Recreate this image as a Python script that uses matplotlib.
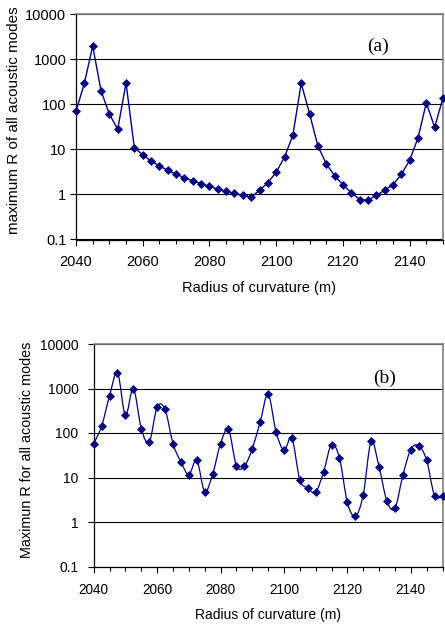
import numpy as np
import matplotlib
matplotlib.use("Agg")
import matplotlib.pyplot as plt
from matplotlib.path import Path
from matplotlib.patches import PathPatch
from matplotlib.ticker import FixedLocator, MultipleLocator, NullFormatter

plt.rcParams['font.family'] = ['Liberation Sans', 'DejaVu Sans']

# radius of curvature, 2.5 m steps
radius = [2040 + 2.5 * i for i in range(45)]

# (a) maximum R of all acoustic modes
r_a = [70, 288, 1950, 200, 60, 28, 293, 10.7, 7.6, 5.5, 4.3, 3.4, 2.8, 2.35, 2.0,
       1.73, 1.5, 1.31, 1.17, 1.05, 0.95, 0.87, 1.23, 1.82, 3.1, 6.7, 20.5, 290, 62,
       11.8, 4.8, 2.6, 1.64, 1.09, 0.77, 0.74, 0.95, 1.23, 1.64, 2.78, 5.7, 17.8,
       107, 31, 138]

# (b) maximum R for all acoustic modes
r_b = [58, 142, 690, 2270, 250, 1000, 126, 62, 380, 338, 58, 22.4, 11.6, 24.4, 4.8,
       11.8, 58, 120, 18.5, 17.9, 44, 178, 745, 107, 41, 76, 8.9, 5.8, 4.65, 13.4,
       55, 27.6, 2.76, 1.34, 4.1, 65, 17.3, 2.9, 2.03, 11.2, 42.5, 52, 24.4, 3.9, 3.9]

yticks = [0.1, 1, 10, 100, 1000, 10000]
ytick_labels = ['0.1', '1', '10', '100', '1000', '10000']
xticks = [2040, 2060, 2080, 2100, 2120, 2140]

navy = '#000080'
W, H = 445, 625


def frac(left, top, right, bottom):
    return [left / W, 1 - bottom / H, (right - left) / W, (bottom - top) / H]


def smooth_path(x, y):
    # excel-style smoothed line: catmull-rom bezier in (x, log y)
    px = np.asarray(x, float)
    py = np.log10(np.asarray(y, float))
    n = len(px)
    verts = [(px[0], py[0])]
    codes = [Path.MOVETO]
    for i in range(n - 1):
        i0 = max(i - 1, 0)
        i3 = min(i + 2, n - 1)
        c1 = (px[i] + (px[i + 1] - px[i0]) / 6, py[i] + (py[i + 1] - py[i0]) / 6)
        c2 = (px[i + 1] - (px[i3] - px[i]) / 6, py[i + 1] - (py[i3] - py[i]) / 6)
        verts += [c1, c2, (px[i + 1], py[i + 1])]
        codes += [Path.CURVE4] * 3
    verts = [(vx, 10 ** vy) for vx, vy in verts]
    return Path(verts, codes)


def style(ax, fs_x, fs_y):
    ax.set_yscale('log')
    ax.set_ylim(0.1, 10000)
    ax.set_xlim(2040, 2150)
    ax.yaxis.set_major_locator(FixedLocator(yticks))
    ax.set_yticklabels(ytick_labels)
    ax.yaxis.set_minor_locator(FixedLocator([]))
    ax.yaxis.set_minor_formatter(NullFormatter())
    ax.xaxis.set_major_locator(FixedLocator(xticks))
    ax.xaxis.set_minor_locator(MultipleLocator(5))
    ax.grid(axis='y', color='black', lw=0.8)
    ax.set_axisbelow(True)
    for s in ['top', 'right']:
        ax.spines[s].set_color('#808080')
        ax.spines[s].set_linewidth(1.2)
    for s in ['left', 'bottom']:
        ax.spines[s].set_color('black')
        ax.spines[s].set_linewidth(0.9)
    ax.tick_params(axis='both', which='major', direction='out', length=4, width=0.8,
                   top=False, right=False)
    ax.tick_params(axis='x', which='major', labelsize=fs_x)
    ax.tick_params(axis='y', which='major', labelsize=fs_y)
    ax.tick_params(axis='x', which='minor', direction='out', length=3, width=0.8)


fig = plt.figure(figsize=(4.45, 6.25), dpi=100)

# (a)
ax1 = fig.add_axes(frac(76, 14, 443, 239.5))
style(ax1, 10.5, 10.5)
ax1.plot(radius, r_a, color=navy, lw=1.0, marker='D', ms=4.4, mfc=navy, mec=navy,
         mew=0.5, clip_on=False, zorder=3)
ax1.tick_params(axis='x', which='major', pad=7)
ax1.tick_params(axis='y', which='major', pad=3)
ax1.set_xlabel('Radius of curvature (m)', fontsize=10.5, labelpad=9)
fig.text(14 / W, 1 - 120 / H, 'maximum R of all acoustic modes', rotation=90,
         ha='center', va='center', fontsize=11)
ax1.text(2130.5, 1950, '(a)', ha='center', va='center', fontsize=14,
         family=['Liberation Serif', 'DejaVu Serif'])

# (b)
ax2 = fig.add_axes(frac(93.7, 344, 442.5, 566.5))
style(ax2, 9.8, 10)
ax2.add_patch(PathPatch(smooth_path(radius, r_b), fc='none', ec=navy, lw=0.9,
                        clip_on=False, zorder=3))
ax2.plot(radius, r_b, ls='none', marker='D', ms=4.4, mfc=navy, mec=navy, mew=0.5,
         clip_on=False, zorder=4)
ax2.tick_params(axis='x', which='major', pad=8)
ax2.tick_params(axis='y', which='major', pad=7)
ax2.set_xlabel('Radius of curvature (m)', fontsize=10, labelpad=8)
fig.text(27 / W, 1 - 450 / H, 'Maximun R for all acoustic modes', rotation=90,
         ha='center', va='center', fontsize=10.4)
ax2.text(2131.6, 1730, '(b)', ha='center', va='center', fontsize=14,
         family=['Liberation Serif', 'DejaVu Serif'])

fig.savefig('out.png', dpi=100)
